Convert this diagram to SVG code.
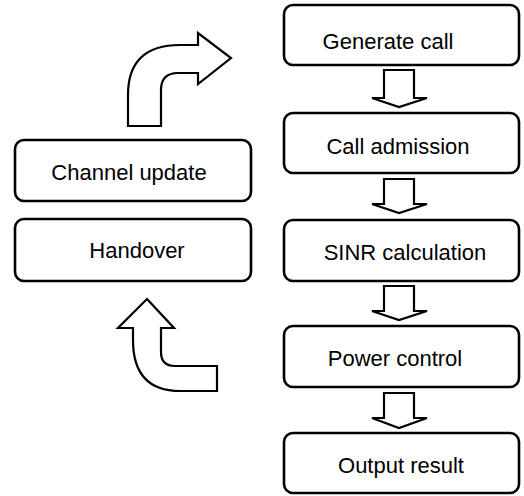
<svg xmlns="http://www.w3.org/2000/svg" width="524" height="496" viewBox="0 0 524 496">
<style>
.box{fill:#fff;stroke:#000;stroke-width:2.6}
.lbl{font-family:"Liberation Sans",Arial,sans-serif;font-size:22px;fill:#000;text-anchor:middle}
.arr{fill:#fff;stroke:#000;stroke-width:2.2;stroke-linejoin:miter}
</style>
<rect width="524" height="496" fill="#fff"/>
<g id="generate-call"><rect class="box" x="284" y="5" width="235" height="60" rx="9"/><text class="lbl" x="388" y="49">Generate call</text></g>
<g id="call-admission"><rect class="box" x="284" y="113" width="235" height="60" rx="9"/><text class="lbl" x="398" y="154">Call admission</text></g>
<g id="sinr-calculation"><rect class="box" x="284" y="220" width="235" height="61" rx="9"/><text class="lbl" x="405" y="260">SINR calculation</text></g>
<g id="power-control"><rect class="box" x="284" y="326" width="235" height="61" rx="9"/><text class="lbl" x="395" y="366">Power control</text></g>
<g id="output-result"><rect class="box" x="284" y="433" width="235" height="60" rx="9"/><text class="lbl" x="401" y="473">Output result</text></g>
<g id="channel-update"><rect class="box" x="15" y="140" width="236" height="61" rx="9"/><text class="lbl" x="129" y="180">Channel update</text></g>
<g id="handover"><rect class="box" x="15" y="219" width="236" height="62" rx="9"/><text class="lbl" x="137" y="258">Handover</text></g>
<g id="connectors">
<path class="arr" d="M384,70 H414 V98 H427 L399,107 L372,98 H384 Z"/>
<path class="arr" d="M384,179 H414 V204 H427 L399,213 L372,204 H384 Z"/>
<path class="arr" d="M384,286 H414 V311 H427 L399,320 L372,311 H384 Z"/>
<path class="arr" d="M384,393 H414 V418 H427 L399,428 L372,418 H384 Z"/>
<path class="arr" d="M128,126 L161,126 L161,90 Q161,73 178,73 L198,73 L198,84 L231,58 L198,33 L198,45 L180,45 Q128,45 128,95 Z"/>
<path class="arr" d="M147,299 L174,328 L161,328 L161,352 Q161,366 175,366 L217,366 L217,391 L180,391 C150,391 133,375 133,340 L133,328 L118,328 Z"/>
</g>
</svg>
